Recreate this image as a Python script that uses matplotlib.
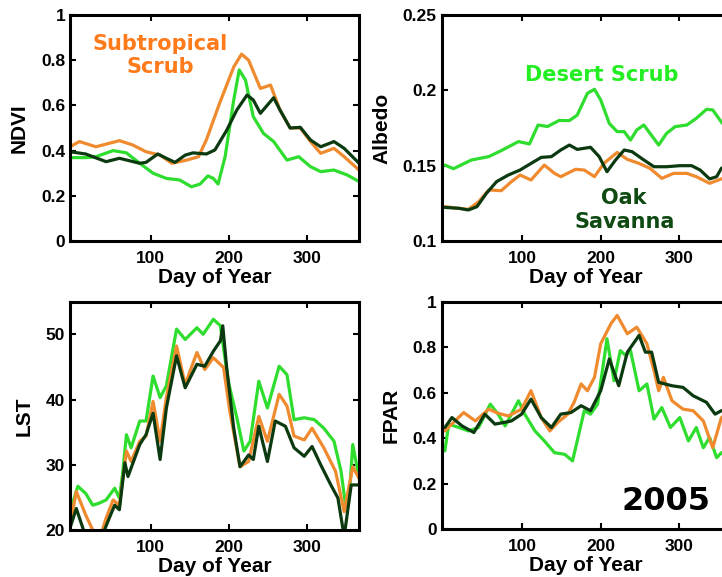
import matplotlib
matplotlib.use("Agg")
import matplotlib.pyplot as plt
from matplotlib.font_manager import FontProperties
from matplotlib.ticker import FormatStrFormatter

# colours of the three vegetation types
ORANGE = '#F08A2E'
GREEN = '#2EDD2E'
DARK = '#0C3A10'

# ---- NDVI ----
ndvi_sub_day = [-3, 9, 30, 60, 77, 94, 112, 127, 146, 161, 171, 188, 206, 216, 225, 240, 253, 265, 278, 291, 304, 317, 334, 347, 366]
ndvi_sub = [0.417, 0.44, 0.417, 0.444, 0.425, 0.395, 0.38, 0.344, 0.358, 0.373, 0.447, 0.61, 0.77, 0.827, 0.80, 0.675, 0.69, 0.58, 0.50, 0.50, 0.44, 0.388, 0.41, 0.373, 0.314]
ndvi_oak_day = [-3, 17, 43, 60, 86, 94, 109, 120, 131, 144, 154, 171, 182, 197, 210, 223, 231, 240, 257, 265, 278, 291, 304, 317, 334, 347, 366]
ndvi_oak = [0.395, 0.385, 0.351, 0.366, 0.344, 0.348, 0.385, 0.366, 0.348, 0.38, 0.39, 0.385, 0.403, 0.49, 0.58, 0.646, 0.624, 0.565, 0.634, 0.58, 0.50, 0.503, 0.447, 0.417, 0.44, 0.41, 0.344]
ndvi_des_day = [-3, 17, 30, 52, 69, 86, 103, 120, 137, 152, 163, 173, 180, 186, 195, 206, 213, 221, 231, 244, 257, 274, 289, 304, 317, 334, 351, 366]
ndvi_des = [0.369, 0.369, 0.373, 0.40, 0.39, 0.344, 0.30, 0.277, 0.27, 0.24, 0.252, 0.288, 0.277, 0.252, 0.373, 0.624, 0.757, 0.712, 0.55, 0.476, 0.44, 0.358, 0.373, 0.329, 0.307, 0.314, 0.292, 0.263]

# ---- Albedo ----
alb_des_day = [1, 12, 35, 57, 73, 95, 109, 120, 132, 147, 160, 170, 183, 192, 200, 211, 221, 230, 238, 246, 255, 263, 274, 284, 295, 310, 322, 335, 343, 354, 366]
alb_des = [0.1504, 0.148, 0.1538, 0.156, 0.160, 0.166, 0.1644, 0.177, 0.176, 0.180, 0.1799, 0.1836, 0.198, 0.2007, 0.1936, 0.178, 0.1726, 0.1726, 0.167, 0.1737, 0.177, 0.1714, 0.1637, 0.1714, 0.1759, 0.177, 0.1814, 0.1874, 0.187, 0.179, 0.172]
alb_oak_day = [1, 19, 31, 42, 54, 67, 82, 97, 111, 124, 137, 149, 160, 170, 187, 198, 208, 219, 230, 240, 255, 268, 284, 301, 316, 327, 339, 348, 354, 366]
alb_oak = [0.1223, 0.1217, 0.1206, 0.1228, 0.1316, 0.1394, 0.1438, 0.1471, 0.1515, 0.1555, 0.156, 0.1604, 0.1637, 0.1608, 0.1622, 0.156, 0.146, 0.1538, 0.1604, 0.1593, 0.1538, 0.1493, 0.1493, 0.15, 0.15, 0.1471, 0.1412, 0.1427, 0.1482, 0.152]
alb_sub_day = [1, 19, 31, 44, 57, 73, 86, 97, 111, 128, 141, 149, 168, 179, 192, 204, 221, 234, 249, 263, 278, 293, 310, 322, 339, 354, 366]
alb_sub = [0.1228, 0.1217, 0.121, 0.126, 0.1339, 0.1334, 0.1394, 0.1438, 0.1405, 0.1504, 0.1449, 0.1427, 0.1476, 0.1471, 0.1427, 0.1515, 0.1588, 0.1542, 0.1515, 0.1482, 0.1416, 0.1449, 0.1449, 0.1427, 0.1383, 0.1412, 0.143]

# ---- LST ----
lst_des_day = [-3, 7, 17, 26, 34, 43, 54, 60, 64, 69, 75, 86, 94, 103, 112, 120, 133, 144, 159, 167, 180, 189, 199, 210, 219, 227, 238, 249, 264, 274, 283, 296, 309, 321, 334, 343, 349, 354, 358, 366]
lst_des = [22.8, 26.7, 25.6, 23.8, 24.1, 24.6, 26.4, 24.9, 28.5, 34.6, 32.6, 36.7, 36.7, 43.6, 40.3, 42.1, 50.8, 49.2, 51.0, 50.0, 52.3, 51.3, 42.8, 37.2, 32.1, 33.6, 42.8, 38.7, 45.1, 43.8, 36.9, 37.2, 36.9, 35.6, 33.6, 29.0, 23.6, 25.9, 33.1, 27.9]
lst_sub_day = [-3, 5, 17, 26, 37, 43, 52, 60, 69, 75, 86, 94, 103, 112, 120, 133, 144, 159, 169, 180, 193, 201, 214, 225, 238, 249, 264, 274, 283, 296, 306, 321, 336, 347, 358, 366]
lst_sub = [20.8, 25.9, 22.3, 20.0, 19.5, 21.8, 24.6, 23.8, 32.1, 30.5, 33.6, 34.4, 39.7, 33.6, 40.3, 48.2, 42.3, 47.2, 44.6, 46.4, 44.9, 38.2, 29.7, 30.5, 37.4, 33.6, 40.8, 39.0, 34.4, 33.8, 35.6, 32.6, 29.0, 22.8, 29.7, 27.9]
lst_oak_day = [-3, 5, 15, 26, 37, 47, 54, 60, 67, 71, 86, 94, 103, 112, 120, 133, 144, 159, 169, 180, 189, 192, 197, 206, 214, 225, 231, 238, 249, 259, 272, 283, 296, 306, 317, 330, 339, 347, 356, 366]
lst_oak = [20.3, 23.3, 19.7, 18.8, 18.8, 21.8, 23.8, 23.1, 30.3, 28.2, 33.1, 34.6, 37.9, 30.8, 38.7, 46.7, 41.8, 45.4, 45.1, 47.4, 49.0, 51.3, 44.9, 35.6, 29.7, 31.5, 30.8, 35.9, 30.5, 36.7, 35.9, 32.6, 31.3, 32.8, 30.0, 26.9, 24.9, 19.0, 26.9, 26.9]

# ---- FPAR ----
fpar_sub_day = [1, 14, 25, 40, 57, 69, 82, 99, 111, 124, 135, 145, 158, 166, 175, 183, 192, 200, 213, 221, 234, 246, 259, 268, 274, 280, 291, 305, 318, 331, 343, 354, 366]
fpar_sub = [0.432, 0.476, 0.513, 0.476, 0.528, 0.51, 0.498, 0.528, 0.609, 0.491, 0.432, 0.469, 0.506, 0.558, 0.639, 0.609, 0.668, 0.816, 0.904, 0.941, 0.86, 0.889, 0.816, 0.698, 0.609, 0.668, 0.565, 0.528, 0.521, 0.476, 0.358, 0.49, 0.52]
fpar_oak_day = [1, 10, 23, 38, 52, 65, 76, 86, 99, 111, 124, 137, 149, 162, 175, 187, 200, 211, 223, 234, 249, 257, 265, 274, 291, 305, 318, 335, 346, 354, 366]
fpar_oak = [0.447, 0.491, 0.454, 0.425, 0.506, 0.462, 0.469, 0.476, 0.506, 0.572, 0.491, 0.447, 0.506, 0.513, 0.543, 0.521, 0.609, 0.749, 0.631, 0.779, 0.853, 0.779, 0.779, 0.646, 0.631, 0.624, 0.587, 0.558, 0.506, 0.521, 0.53]
fpar_des_day = [1, 6, 19, 31, 44, 59, 69, 78, 95, 103, 116, 128, 141, 154, 164, 170, 179, 187, 196, 208, 217, 225, 232, 238, 249, 259, 268, 278, 289, 301, 312, 322, 331, 339, 348, 354, 366]
fpar_des = [0.344, 0.462, 0.447, 0.432, 0.447, 0.55, 0.506, 0.454, 0.565, 0.506, 0.432, 0.388, 0.336, 0.329, 0.30, 0.388, 0.521, 0.506, 0.55, 0.838, 0.653, 0.786, 0.764, 0.786, 0.609, 0.639, 0.484, 0.535, 0.447, 0.491, 0.388, 0.447, 0.358, 0.403, 0.314, 0.336, 0.34]

TICK_FONT = dict(family='Liberation Sans', weight='bold', size=12.5)
LABEL_FONT = dict(family='Liberation Sans', weight='bold', size=15)
NOTE_FONT = dict(family='DejaVu Sans', weight='bold', size=15)

fig = plt.figure(figsize=(7.22, 5.77), dpi=100)

# axes rectangles in figure fractions (right column runs past the figure edge)
ax_ndvi = fig.add_axes([0.0970, 0.5823, 0.4003, 0.3917])
ax_alb = fig.add_axes([0.6118, 0.5823, 0.4003, 0.3917])
ax_lst = fig.add_axes([0.0970, 0.0815, 0.4003, 0.3957])
ax_fpar = fig.add_axes([0.6118, 0.0832, 0.4003, 0.3934])


def style(ax, ylabel, ylim, yticks, fmt='%g'):
    ax.set_xlim(-3, 366)
    ax.set_ylim(*ylim)
    ax.set_xticks([100, 200, 300])
    ax.set_yticks(yticks)
    ax.yaxis.set_major_formatter(FormatStrFormatter(fmt))
    ax.tick_params(direction='in', length=4, width=1.5, top=True, right=True)
    ax.tick_params(axis='x', pad=7.5)
    ax.tick_params(axis='y', pad=3.5)
    fp = FontProperties(**TICK_FONT)
    for lab in ax.get_xticklabels() + ax.get_yticklabels():
        lab.set_fontproperties(fp)
    for sp in ax.spines.values():
        sp.set_linewidth(2.2)
    ax.set_xlabel('Day of Year', labelpad=1, **LABEL_FONT)
    ax.set_ylabel(ylabel, labelpad=8.5, **LABEL_FONT)


LINE = dict(lw=2.3, solid_joinstyle='round', solid_capstyle='round')

ax_ndvi.plot(ndvi_sub_day, ndvi_sub, color=ORANGE, **LINE)
ax_ndvi.plot(ndvi_des_day, ndvi_des, color=GREEN, **LINE)
ax_ndvi.plot(ndvi_oak_day, ndvi_oak, color=DARK, **LINE)
style(ax_ndvi, 'NDVI', (0, 1), [0, 0.2, 0.4, 0.6, 0.8, 1])
ax_ndvi.text(112, 0.82, 'Subtropical\nScrub', color='#FF7A1A', ha='center', va='center',
             linespacing=1.2, **NOTE_FONT)

ax_alb.plot(alb_des_day, alb_des, color=GREEN, **LINE)
ax_alb.plot(alb_sub_day, alb_sub, color=ORANGE, **LINE)
ax_alb.plot(alb_oak_day, alb_oak, color=DARK, **LINE)
style(ax_alb, 'Albedo', (0.1, 0.25), [0.1, 0.15, 0.2, 0.25])
ax_alb.text(201, 0.210, 'Desert Scrub', color='#22EE22', ha='center', va='center', **NOTE_FONT)
ax_alb.text(230, 0.1205, 'Oak\nSavanna', color='#0E4A12', ha='center', va='center',
            linespacing=1.25, **NOTE_FONT)

ax_lst.plot(lst_des_day, lst_des, color=GREEN, **LINE)
ax_lst.plot(lst_sub_day, lst_sub, color=ORANGE, **LINE)
ax_lst.plot(lst_oak_day, lst_oak, color=DARK, **LINE)
style(ax_lst, 'LST', (20, 55), [20, 30, 40, 50])

ax_fpar.plot(fpar_des_day, fpar_des, color=GREEN, **LINE)
ax_fpar.plot(fpar_sub_day, fpar_sub, color=ORANGE, **LINE)
ax_fpar.plot(fpar_oak_day, fpar_oak, color=DARK, **LINE)
style(ax_fpar, 'FPAR', (0, 1), [0, 0.2, 0.4, 0.6, 0.8, 1])
ax_fpar.text(283, 0.12, '2005', color='black', ha='center', va='center',
             family='DejaVu Sans', weight='bold', size=23)

fig.savefig('out.png', dpi=100)
